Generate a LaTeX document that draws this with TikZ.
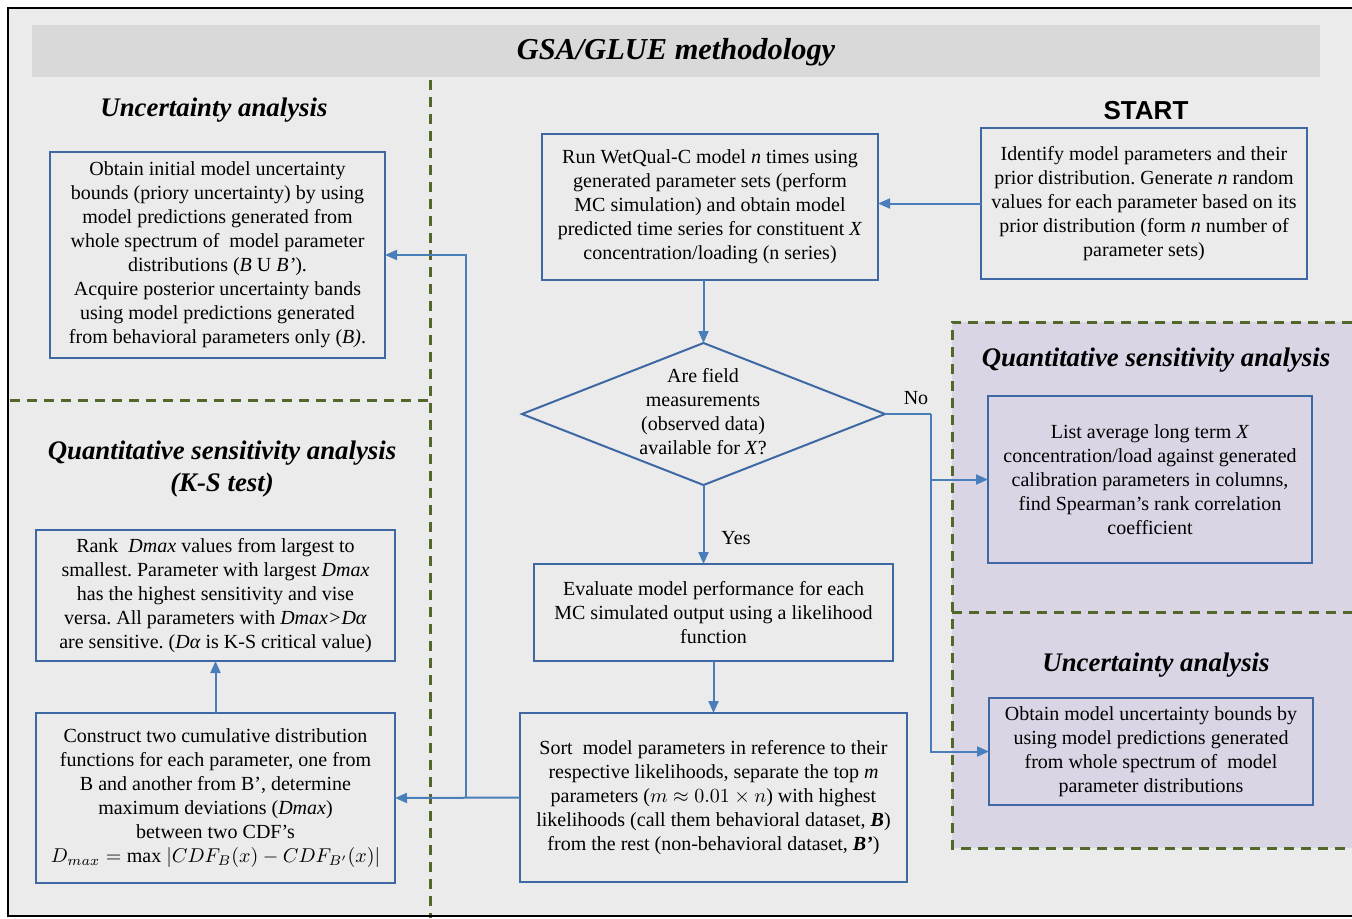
\documentclass[tikz,border=0pt]{standalone}
\usepackage{fontspec}
\setmainfont{Liberation Serif}
\newfontfamily\startfont{Liberation Sans}
\usepackage{tikz}
\usetikzlibrary{positioning,calc,arrows.meta,shapes.geometric}
\frenchspacing
\tikzset{gpx/.style={x=0.5pt,y=-0.5pt,every node/.style={inner sep=0pt,outer sep=0pt,anchor=center,align=center}}}
\definecolor{gfundo}{HTML}{EBEBEB}
\definecolor{gfaixa}{HTML}{D9D9D9}
\definecolor{glilas}{HTML}{DAD5E4}
\definecolor{gverde}{HTML}{52672A}
\definecolor{gborda}{HTML}{3E68A3}
\definecolor{gseta}{HTML}{4A7EBB}
\tikzset{
  etapa/.style={draw=gborda,line width=1pt,font=\fontsize{10}{12}\selectfont},
  pergunta/.style={draw=gborda,line width=1pt,shape=diamond},
  texto/.style={font=\fontsize{10}{12}\selectfont},
  secao/.style={font=\fontsize{13.4}{16}\selectfont\bfseries\itshape},
  limite/.style={draw=gverde,line width=1.5pt,dash pattern=on 5pt off 3.5pt},
  linha/.style={gseta,line width=1pt},
  seta/.style={linha,-{Triangle[length=6pt,width=5pt]}},
}

\begin{document}
\begin{tikzpicture}[gpx]
  \useasboundingbox (0,0) rectangle (1352,918);
  % fundo e moldura
  \fill[white] (0,0) rectangle (1352,918);
  \fill[gfundo] (8,8) rectangle (1352,916);
  \fill[gfaixa] (32,25) rectangle (1320,77);
  \node[font=\fontsize{15.2}{18}\selectfont\bfseries\itshape] (tit) at (676,52) {GSA/GLUE methodology};
  % regioes
  \fill[glilas] (952,322) rectangle (1352,848);
  \draw[limite] (1352,322) -- (952,322) -- (952,848) -- (1352,848);
  \draw[limite] (952,612) -- (1352,612);
  \draw[limite] (430,80) -- (430,918);
  \draw[limite] (10,400) -- (430,400);
  \draw[black,line width=1.2pt] (1352,8) -- (8,8) -- (8,916) -- (1352,916);
  % titulos das secoes
  \node[secao] (sua) at (214,110) {Uncertainty analysis};
  \node[secao] (sks) at (222,469) {Quantitative sensitivity analysis\\(K-S test)};
  \node[font=\fontsize{13}{15}\selectfont\startfont\bfseries] (ini) at (1146,111) {START};
  \node[secao] (sqs) at (1156,360) {Quantitative sensitivity analysis};
  \node[secao] (sub) at (1156,665) {Uncertainty analysis};
  % caixas
  \node[etapa,minimum width=163pt,minimum height=75.5pt] (ident) at (1144,203.5) {Identify model parameters and their\\prior distribution. Generate \textit{n} random\\values for each parameter based on its\\prior distribution (form \textit{n} number of\\parameter sets)};
  \node[etapa,minimum width=168pt,minimum height=73pt] (roda) at (710,207) {Run WetQual-C model \textit{n} times using\\generated parameter sets (perform\\MC simulation) and obtain model\\predicted time series for constituent \textit{X}\\concentration/loading (n series)};
  \node[pergunta,minimum width=181.5pt,minimum height=71pt] (dados) at (703.5,414) {};
  \node[texto] (dadost) at (703,412) {Are field\\measurements\\(observed data)\\available for \textit{X}?};
  \node[etapa,minimum width=179.5pt,minimum height=48.5pt] (aval) at (713.5,612.5) {Evaluate model performance for each\\MC simulated output using a likelihood\\function};
  \node[etapa,minimum width=193.5pt,minimum height=84.5pt] (ordena) at (713.5,797.5) {Sort\ \ model parameters in reference to their\\respective likelihoods, separate the top \textit{m}\\parameters ($m \approx 0.01 \times n$) with highest\\likelihoods (call them behavioral dataset, \textbf{\textit{B}})\\from the rest (non-behavioral dataset, \textbf{\textit{B’}})};
  \node[etapa,minimum width=162pt,minimum height=83.5pt] (spear) at (1150,479.5) {List average long term \textit{X}\\concentration/load against generated\\calibration parameters in columns,\\find Spearman’s rank correlation\\coefficient};
  \node[etapa,minimum width=162pt,minimum height=53.5pt] (incr) at (1151,751.5) {Obtain model uncertainty bounds by\\using model predictions generated\\from whole spectrum of\ \ model\\parameter distributions};
  \node[etapa,minimum width=167.5pt,minimum height=103pt] (incl) at (217.5,255) {Obtain initial model uncertainty\\bounds (priory uncertainty) by using\\model predictions generated from\\whole spectrum of\ \ model parameter\\distributions (\textit{B} U \textit{B’}).\\Acquire posterior uncertainty bands\\using model predictions generated\\from behavioral parameters only (\textit{B)}.};
  \node[etapa,minimum width=179.5pt,minimum height=65.5pt] (rank) at (215.5,595.5) {Rank\ \ \textit{Dmax} values from largest to\\smallest. Parameter with largest \textit{Dmax}\\has the highest sensitivity and vise\\versa. All parameters with \textit{Dmax>Dα}\\are sensitive. (\textit{Dα} is K-S critical value)};
  \node[etapa,minimum width=179.5pt,minimum height=85pt] (cdf) at (215.5,798) {Construct two cumulative distribution\\functions for each parameter, one from\\B and another from B’, determine\\maximum deviations (\textit{Dmax})\\between two CDF’s\\$D_{max} = \mathrm{max}\ |CDF_B(x) - CDF_{B'}(x)|$};
  % rotulos
  \node[texto] (nao) at (916,398) {No};
  \node[texto] (sim) at (736,538) {Yes};
  \coordinate (jd) at (931,414);
  \coordinate (je) at (466,798);
  % ligacoes
  \draw[seta] (ident.west) -- (ident.west -| roda.east);
  \draw[seta] (dados.north |- roda.south) -- (dados.north);
  \draw[seta] (dados.south) -- (dados.south |- aval.north);
  \draw[seta] (aval.south) -- (aval.south |- ordena.north);
  \draw[linha] (dados.east) -- (jd);
  \draw[seta] (jd) |- (spear.west);
  \draw[seta] (jd) |- (incr.west);
  \draw[seta] (ordena.west) -- (cdf.east);
  \draw[seta] (je) |- (incl.east);
  \draw[seta] (cdf.north) -- (rank.south);
\end{tikzpicture}
\end{document}
